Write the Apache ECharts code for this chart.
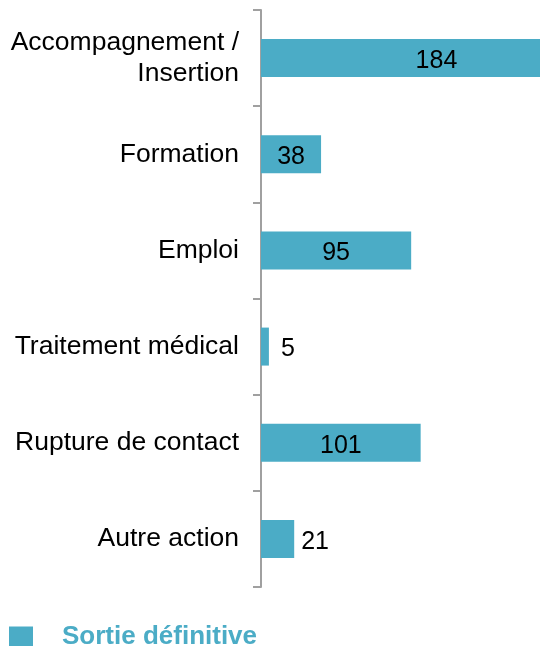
<!DOCTYPE html>
<html>
<head>
<meta charset="utf-8">
<script src="https://cdn.jsdelivr.net/npm/echarts@6/dist/echarts.min.js"></script>
<style>html,body{margin:0;padding:0;background:#fff;}#c{width:540px;height:646px;}</style>
</head>
<body>
<div id="c"></div>
<script>
const categories = ['Accompagnement /\nInsertion', 'Formation', 'Emploi', 'Traitement médical', 'Rupture de contact', 'Autre action'];
const values = [184, 38, 95, 5, 101, 21];
const seriesName = 'Sortie définitive';

const color = '#4BACC6';
const chart = echarts.init(document.getElementById('c'), null, {renderer: 'canvas'});
const data = values.map((v, i) => {
  let label;
  if (v < 30) {
    label = {position: 'right', distance: v < 10 ? 12 : 7, offset: [0, 3]};
  } else if (i === 0) {
    label = {position: 'inside', offset: [30, 3]};
  } else {
    label = {position: 'inside', offset: [0, 3]};
  }
  return {value: v, label: label};
});
chart.setOption({
  animation: false,
  grid: {left: 261, top: 10, height: 577, right: 0},
  legend: {
    left: 4, top: 619,
    icon: 'rect', itemWidth: 24, itemHeight: 21,
    textStyle: {color: color, fontSize: 26, lineHeight: 26, fontWeight: 'bold', fontFamily: 'Liberation Sans, Arial', padding: [0, 0, 0, 24]},
    data: [seriesName]
  },
  xAxis: {type: 'value', min: 0, max: 176.5, show: false},
  yAxis: {
    type: 'category', inverse: true, data: categories,
    axisLine: {show: true, lineStyle: {color: '#A0A0A0', width: 2}},
    axisTick: {show: true, length: 8, lineStyle: {color: '#A0A0A0', width: 2}},
    axisLabel: {color: '#000', fontSize: 26.5, fontFamily: 'Liberation Sans, Arial', margin: 22, lineHeight: 31, align: 'right', padding: [4, 0, 0, 0]}
  },
  series: [{
    name: seriesName, type: 'bar', barWidth: 38, clip: false,
    itemStyle: {color: color},
    label: {show: true, color: '#000', fontSize: 25, fontFamily: 'Liberation Sans, Arial'},
    data: data
  }]
});
</script>
</body>
</html>
